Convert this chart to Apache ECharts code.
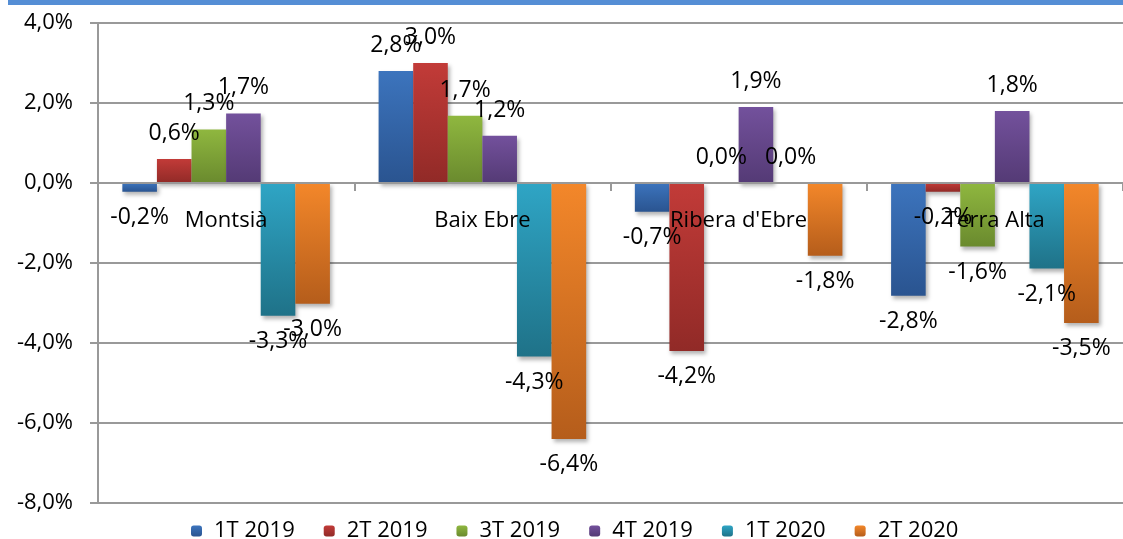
<!DOCTYPE html>
<html>
<head>
<meta charset="utf-8">
<script src="https://cdn.jsdelivr.net/npm/echarts@6/dist/echarts.min.js"></script>
<style>
  html, body { margin: 0; padding: 0; background: #fff; }
  #chart { width: 1123px; height: 539px; }
</style>
</head>
<body>
<div id="chart"></div>
<script>
// categorías (comarques)
var categories = ["Montsià", "Baix Ebre", "Ribera d'Ebre", "Terra Alta"];
var seriesNames = ["1T 2019", "2T 2019", "3T 2019", "4T 2019", "1T 2020", "2T 2020"];

// variació en %, per trimestre
var v1T2019 = [-0.22, 2.8, -0.72, -2.82];
var v2T2019 = [0.6, 3.0, -4.2, -0.22];
var v3T2019 = [1.34, 1.68, 0.0, -1.59];
var v4T2019 = [1.74, 1.18, 1.9, 1.8];
var v1T2020 = [-3.32, -4.34, 0.0, -2.14];
var v2T2020 = [-3.02, -6.4, -1.82, -3.5];

var yTicks = [-8, -6, -4, -2, 0, 2, 4];

var values = [v1T2019, v2T2019, v3T2019, v4T2019, v1T2020, v2T2020];
// colors: top, bottom of gradient
var colors = [
  ["#3C74BD", "#2A5490"],
  ["#C23B38", "#912A27"],
  ["#8FB73F", "#6A8A2E"],
  ["#73519C", "#543A75"],
  ["#2FA5C5", "#1F7288"],
  ["#F3872A", "#B55D1B"]
];

function pct(v) {
  return v.toFixed(1).replace(".", ",") + "%";
}

var font = "'Open Sans', 'Liberation Sans', sans-serif";

// grid geometry (px)
var gridTop = 23, gridBottom = 36, chartH = 539;
var plotH = chartH - gridTop - gridBottom;
var zeroOffset = -plotH * (0 - yTicks[0]) / (yTicks[yTicks.length - 1] - yTicks[0]);

var chart = echarts.init(document.getElementById("chart"));

var series = values.map(function (arr, i) {
  return {
    name: seriesNames[i],
    type: "bar",
    barGap: 0,
    barCategoryGap: "19%",
    data: arr.map(function (v) {
      return {
        value: v,
        label: { position: v < 0 ? "bottom" : "top" }
      };
    }),
    itemStyle: {
      color: new echarts.graphic.LinearGradient(0, 0, 0, 1, [
        { offset: 0, color: colors[i][0] },
        { offset: 1, color: colors[i][1] }
      ]),
      shadowColor: "rgba(0,0,0,0.3)",
      shadowBlur: 4,
      shadowOffsetX: 2,
      shadowOffsetY: 3
    },
    label: {
      show: true,
      distance: 14,
      color: "#000",
      fontFamily: font,
      fontSize: 23,
      formatter: function (p) { return pct(p.value); }
    }
  };
});

var option = {
  animation: false,
  backgroundColor: "#fff",
  graphic: [{
    type: "rect",
    left: 8, top: 0,
    shape: { width: 1115, height: 5 },
    style: { fill: "#558ED5" }
  }],
  grid: {
    left: 98, right: 0, top: gridTop, bottom: gridBottom,
    containLabel: false, outerBoundsMode: "none"
  },
  legend: {
    left: 186,
    top: 515,
    itemWidth: 11,
    itemHeight: 11,
    itemGap: 29,
    data: seriesNames,
    textStyle: { fontFamily: font, fontSize: 22, color: "#000", padding: [0, 0, 0, 7] }
  },
  xAxis: {
    type: "category",
    data: categories,
    position: "bottom",
    offset: zeroOffset,
    z: 10,
    axisLine: { onZero: false, lineStyle: { color: "#999", width: 2 } },
    axisTick: { show: true, length: 8, lineStyle: { color: "#999", width: 2 } },
    axisLabel: { margin: 27, color: "#000", fontFamily: font, fontSize: 22 }
  },
  yAxis: {
    type: "value",
    min: yTicks[0],
    max: yTicks[yTicks.length - 1],
    interval: 2,
    axisLine: { show: true, lineStyle: { color: "#999", width: 2 } },
    axisTick: { show: true, length: 8, inside: false, lineStyle: { color: "#999", width: 2 } },
    splitLine: { lineStyle: { color: "#999", width: 2 } },
    axisLabel: {
      margin: 25,
      color: "#000",
      fontFamily: font,
      fontSize: 22,
      formatter: function (v) { return pct(v); }
    }
  },
  series: series
};

chart.setOption(option);
</script>
</body>
</html>
